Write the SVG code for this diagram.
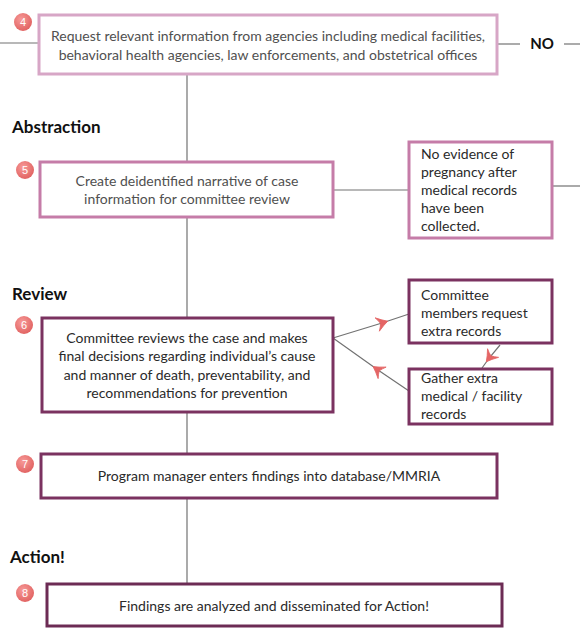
<svg xmlns="http://www.w3.org/2000/svg" width="580" height="629" viewBox="0 0 580 629">
<defs>
<radialGradient id="bg" cx="40%" cy="35%" r="70%">
<stop offset="0" stop-color="#f79a98"/>
<stop offset="1" stop-color="#e0605f"/>
</radialGradient>
<marker id="mid" viewBox="-8 -8 16 16" markerWidth="16" markerHeight="16" refX="0" refY="0" orient="auto" markerUnits="userSpaceOnUse">
<path d="M6,0 Q1,-2.5 -5,-7 Q-2.5,-3 -1.5,0 Q-2.5,3 -5,7 Q1,2.5 6,0 Z" fill="#e46565" stroke="#e46565" stroke-width="0.8" stroke-linejoin="round"/>
</marker>
</defs>
<style>
.bx{fill:#fff;stroke-width:3}
.p1{stroke:#d7a6c6}
.p2{stroke:#c57ca8}
.p3{stroke:#7b3260}
.p4{stroke:#6c2b54}
.t{font-family:Lato,"Open Sans","Liberation Sans",sans-serif;font-size:14px;fill:#2a2a2a}
.g{fill:#505050}
.c{text-anchor:middle}
.h{font-family:Lato,"Open Sans","Liberation Sans",sans-serif;font-size:17px;font-weight:bold;fill:#111}
.ln{stroke:#727272;stroke-width:1.2;fill:none}
.bn{fill:url(#bg)}
.bt{font-family:"Liberation Sans",Arial,sans-serif;font-size:11px;fill:#fff;text-anchor:middle}
</style>
<rect width="580" height="629" fill="#fff"/>
<g id="connectors">
<line class="ln" x1="187" y1="74" x2="187" y2="583"/>
<line class="ln" x1="0" y1="43" x2="39" y2="43"/>
<line class="ln" x1="497" y1="44" x2="520" y2="44"/>
<line class="ln" x1="564" y1="44" x2="580" y2="44"/>
<line class="ln" x1="333" y1="190" x2="408" y2="190"/>
<line class="ln" x1="553" y1="186" x2="580" y2="186"/>
<path class="ln" d="M333,338 L382,323 L409,314" marker-mid="url(#mid)"/>
<path class="ln" d="M409,391 L378,370 L333,338" marker-mid="url(#mid)"/>
<path class="ln" d="M500,345 L490,357 L482,368" marker-mid="url(#mid)"/>
</g>
<g id="label-no"><text class="h" x="542" y="49" text-anchor="middle" style="font-size:15px">NO</text></g>
<g id="heading-abstraction"><text class="h" x="12" y="133">Abstraction</text></g>
<g id="heading-review"><text class="h" x="12" y="300">Review</text></g>
<g id="heading-action"><text class="h" x="10" y="563">Action!</text></g>
<g id="node4">
<rect class="bx p1" x="39" y="15" width="458" height="59"/>
<text class="t g c" x="268" y="41">Request relevant information from agencies including medical facilities,</text>
<text class="t g c" x="268" y="60">behavioral health agencies, law enforcements, and obstetrical offices</text>
<circle class="bn" cx="23" cy="22" r="9"/><text class="bt" x="23" y="26">4</text>
</g>
<g id="node5">
<rect class="bx p2" x="40" y="162" width="293" height="55"/>
<text class="t g c" x="187" y="186">Create deidentified narrative of case</text>
<text class="t g c" x="187" y="204">information for committee review</text>
<circle class="bn" cx="25" cy="170" r="9"/><text class="bt" x="25" y="174">5</text>
</g>
<g id="node-noevidence">
<rect class="bx p2" x="409" y="142" width="143" height="96"/>
<text class="t" x="421" y="159">No evidence of</text>
<text class="t" x="421" y="177">pregnancy after</text>
<text class="t" x="421" y="195">medical records</text>
<text class="t" x="421" y="213">have been</text>
<text class="t" x="421" y="231">collected.</text>
</g>
<g id="node6">
<rect class="bx p3" x="42" y="318" width="291" height="94"/>
<text class="t c" x="187" y="343">Committee reviews the case and makes</text>
<text class="t c" x="187" y="361">final decisions regarding individual’s cause</text>
<text class="t c" x="187" y="380">and manner of death, preventability, and</text>
<text class="t c" x="187" y="398">recommendations for prevention</text>
<circle class="bn" cx="24" cy="325" r="9"/><text class="bt" x="24" y="329">6</text>
</g>
<g id="node-request">
<rect class="bx p3" x="409" y="280" width="143" height="63"/>
<text class="t" x="421" y="300">Committee</text>
<text class="t" x="421" y="318">members request</text>
<text class="t" x="421" y="336">extra records</text>
</g>
<g id="node-gather">
<rect class="bx p3" x="409" y="369" width="143" height="55"/>
<text class="t" x="421" y="383">Gather extra</text>
<text class="t" x="421" y="401">medical / facility</text>
<text class="t" x="421" y="419">records</text>
</g>
<g id="node7">
<rect class="bx p3" x="41" y="454" width="456" height="44"/>
<text class="t c" x="269" y="481">Program manager enters findings into database/MMRIA</text>
<circle class="bn" cx="25" cy="464" r="9"/><text class="bt" x="25" y="468">7</text>
</g>
<g id="node8">
<rect class="bx p4" x="47" y="584" width="455" height="42"/>
<text class="t c" x="274" y="611">Findings are analyzed and disseminated for Action!</text>
<circle class="bn" cx="25" cy="593" r="9"/><text class="bt" x="25" y="597">8</text>
</g>
</svg>
